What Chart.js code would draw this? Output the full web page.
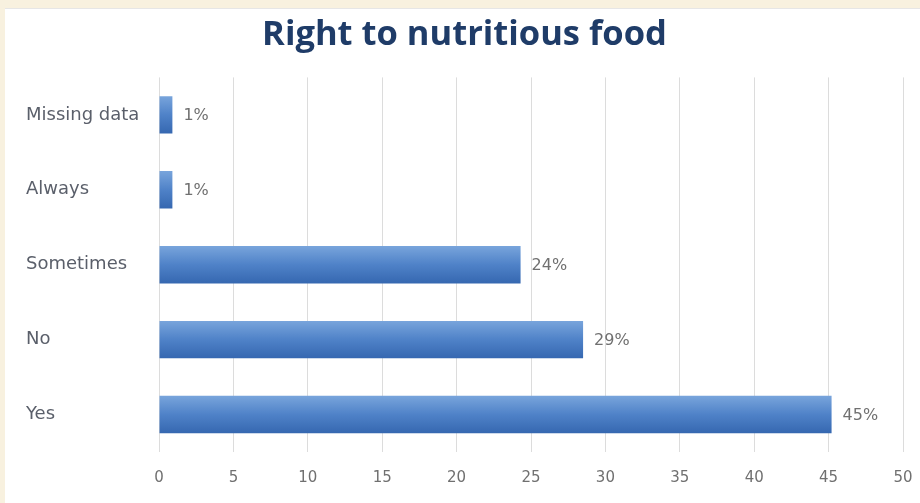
<!DOCTYPE html>
<html>
<head>
<meta charset="utf-8">
<script src="https://cdn.jsdelivr.net/npm/chart.js@4"></script>
<style>
  html,body{margin:0;padding:0;background:#f8f1df;width:920px;height:503px;overflow:hidden;}
  #panel{position:absolute;left:5px;top:8px;width:915px;height:495px;background:#ffffff;border-top:1px solid #e6e6e6;}
  canvas{display:block;}
</style>
</head>
<body>
<div id="panel"><canvas id="c" width="915" height="495"></canvas></div>
<script>
const categories = ["Missing data", "Always", "Sometimes", "No", "Yes"];
const values = [0.9, 0.9, 24.3, 28.5, 45.2];
const valueLabels = ["1%", "1%", "24%", "29%", "45%"];
const xTicks = [0, 5, 10, 15, 20, 25, 30, 35, 40, 45, 50];

const labelPlugin = {
  id: 'valueLabels',
  afterDatasetsDraw(chart) {
    const ctx = chart.ctx;
    const meta = chart.getDatasetMeta(0);
    ctx.save();
    ctx.font = '16px "DejaVu Sans"';
    ctx.fillStyle = '#707070';
    ctx.textAlign = 'left';
    ctx.textBaseline = 'middle';
    meta.data.forEach((bar, i) => {
      ctx.fillText(valueLabels[i], bar.x + 11, bar.y + 1);
    });
    ctx.restore();
  }
};

new Chart(document.getElementById('c'), {
  type: 'bar',
  data: {
    labels: categories,
    datasets: [{
      data: values,
      backgroundColor(context) {
        const chart = context.chart;
        const ca = chart.chartArea;
        if (!ca) return '#4a7cc2';
        const y = chart.scales.y;
        const yc = y.getPixelForValue(context.dataIndex);
        const half = 19;
        const g = chart.ctx.createLinearGradient(0, yc - half, 0, yc + half);
        g.addColorStop(0, '#79a5dc');
        g.addColorStop(0.5, '#4f82c8');
        g.addColorStop(1, '#3567b0');
        return g;
      },
      borderWidth: 0,
      barPercentage: 0.5,
      categoryPercentage: 1.0
    }]
  },
  options: {
    indexAxis: 'y',
    responsive: false,
    animation: false,
    devicePixelRatio: 1,
    layout: { padding: { left: 21, right: 17, top: 0, bottom: 0 } },
    plugins: {
      legend: { display: false },
      tooltip: { enabled: false },
      title: {
        display: true,
        text: 'Right to nutritious food',
        color: '#1f3c68',
        font: { family: '"Open Sans"', size: 34.5, weight: 'bold' },
        padding: { top: 5, bottom: 22 }
      }
    },
    scales: {
      x: {
        min: 0, max: 50,
        afterBuildTicks(scale) { scale.ticks = xTicks.map(v => ({ value: v })); },
        afterFit(scale) { scale.paddingLeft = 0; scale.paddingRight = 0; },
        grid: { color: '#dcdcdc', lineWidth: 1, drawTicks: false },
        border: { display: false },
        ticks: { color: '#707070', font: { family: '"DejaVu Sans"', size: 15 }, padding: 17 }
      },
      y: {
        grid: { display: false },
        border: { display: false },
        afterFit(scale) { scale.width = 133; },
        ticks: { color: '#5a5f6a', crossAlign: 'far', padding: 10, font: { family: '"DejaVu Sans"', size: 18 } }
      }
    }
  },
  plugins: [labelPlugin]
});
</script>
</body>
</html>
